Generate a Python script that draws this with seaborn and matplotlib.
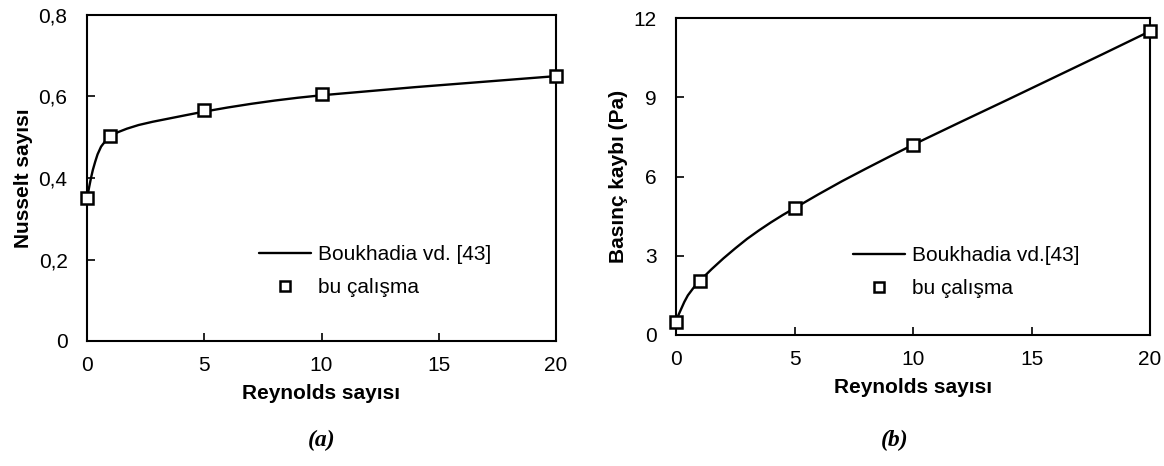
import matplotlib
matplotlib.use("Agg")
import matplotlib.pyplot as plt
import numpy as np
import pandas as pd
import seaborn as sns
from matplotlib.ticker import FuncFormatter, MultipleLocator

sns.set_style("ticks")
plt.rcParams["font.family"] = ["Liberation Sans", "DejaVu Sans"]
for key in ["text.color", "axes.labelcolor", "xtick.color", "ytick.color"]:
    plt.rcParams[key] = "black"

# measured points (bu çalışma)
re_points = [0, 1, 5, 10, 20]
nu_points = [0.35, 0.503, 0.567, 0.605, 0.65]
dp_points = [0.5, 2.05, 4.8, 7.2, 11.5]

# reference curve (Boukhadia vd. [43])
re_curve_a = [0, 0.05, 0.1, 0.17, 0.25, 0.35, 0.45, 0.6, 0.8, 1.0, 1.3, 1.7, 2.2, 2.8, 3.5,
              4.2, 5.0, 6.0, 7.0, 8.0, 9.0, 10.0, 12.0, 14.0, 16.0, 18.0, 20.0]
nu_curve = [0.35, 0.365, 0.38, 0.40, 0.42, 0.44, 0.458, 0.477, 0.492, 0.503, 0.512, 0.521,
            0.530, 0.538, 0.546, 0.554, 0.563, 0.573, 0.582, 0.590, 0.597, 0.603, 0.613,
            0.623, 0.632, 0.641, 0.65]
re_curve_b = [0, 0.05, 0.1, 0.2, 0.35, 0.5, 0.75, 1.0, 1.5, 2.0, 2.5, 3.0, 3.5, 4.0, 4.5,
              5.0, 6.0, 7.0, 8.0, 9.0, 10.0, 12.0, 14.0, 16.0, 18.0, 20.0]
dp_curve = [0.5, 0.63, 0.75, 0.95, 1.25, 1.5, 1.8, 2.05, 2.49, 2.90, 3.28, 3.64, 3.96, 4.26,
            4.54, 4.8, 5.32, 5.82, 6.29, 6.75, 7.2, 8.06, 8.91, 9.77, 10.63, 11.5]

line_df_a = pd.DataFrame({"Re": re_curve_a, "val": nu_curve})
line_df_b = pd.DataFrame({"Re": re_curve_b, "val": dp_curve})
pts_df_a = pd.DataFrame({"Re": re_points, "val": nu_points})
pts_df_b = pd.DataFrame({"Re": re_points, "val": dp_points})

fig = plt.figure(figsize=(11.64, 4.66), dpi=100)
ax_a = fig.add_axes([87 / 1164, 1 - 341 / 466, 469 / 1164, 326 / 466])
ax_b = fig.add_axes([676 / 1164, 1 - 335 / 466, 474 / 1164, 317 / 466])


def draw(ax, line_df, pts_df, label_line, ylabel, ymax, ystep, comma, leg_anchor):
    sns.lineplot(data=line_df, x="Re", y="val", ax=ax, color="black", lw=1.7,
                 label=label_line, sort=False)
    ax.plot(pts_df["Re"], pts_df["val"], ls="none", marker="s", ms=8,
            mfc="white", mec="black", mew=1.8, label="bu çalışma", clip_on=False,
            zorder=5)
    ax.set_xlim(0, 20)
    ax.set_ylim(0, ymax)
    ax.xaxis.set_major_locator(MultipleLocator(5))
    ax.yaxis.set_major_locator(MultipleLocator(ystep))
    if comma:
        ax.yaxis.set_major_formatter(FuncFormatter(
            lambda v, p: "0" if abs(v) < 1e-9 else f"{v:.1f}".replace(".", ",")))
    ax.tick_params(direction="in", length=6, width=1.2, labelsize=15,
                   top=False, right=False)
    ax.tick_params(axis="y", pad=14)
    ax.tick_params(axis="x", pad=11)
    for s in ax.spines.values():
        s.set_visible(True)
        s.set_linewidth(1.5)
        s.set_color("black")
    ax.set_xlabel("Reynolds sayısı", fontsize=15, fontweight="bold", labelpad=6)
    ax.set_ylabel(ylabel, fontsize=15, fontweight="bold", labelpad=4)
    leg = ax.legend(loc="upper left", bbox_to_anchor=leg_anchor, frameon=False,
                    fontsize=15, handlelength=2.5, handletextpad=0.35,
                    labelspacing=0.68, borderpad=0, borderaxespad=0,
                    markerscale=0.95)
    return leg


draw(ax_a, line_df_a, pts_df_a, "Boukhadia vd. [43]", "Nusselt sayısı",
     0.8, 0.2, True, (0.367, 0.295))
draw(ax_b, line_df_b, pts_df_b, "Boukhadia vd.[43]", "Basınç kaybı (Pa)",
     12, 3, False, (0.373, 0.28))

fig.text(322 / 1164, 1 - 440 / 466, "(a)", ha="center", va="center",
         fontsize=17, fontweight="bold", fontstyle="italic",
         family=["Liberation Serif", "DejaVu Serif"])
fig.text(895 / 1164, 1 - 440 / 466, "(b)", ha="center", va="center",
         fontsize=17, fontweight="bold", fontstyle="italic",
         family=["Liberation Serif", "DejaVu Serif"])

fig.savefig("out.png", dpi=100)
